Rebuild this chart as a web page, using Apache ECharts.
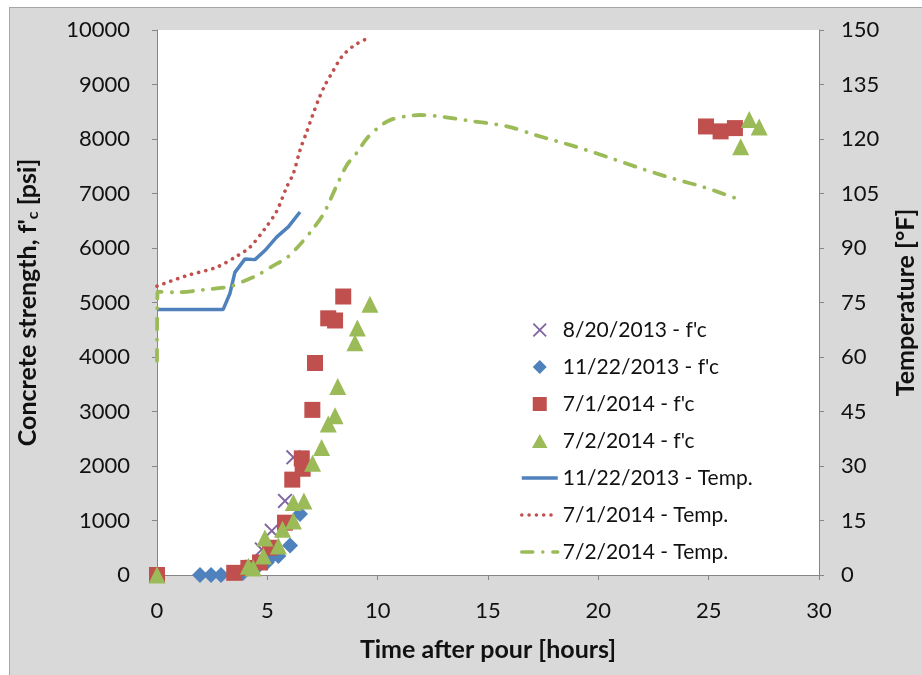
<!DOCTYPE html>
<html>
<head>
<meta charset="utf-8">
<script src="https://cdn.jsdelivr.net/npm/echarts@6/dist/echarts.min.js"></script>
<style>
html,body{margin:0;padding:0;background:#ffffff;}
#chart{position:absolute;left:9px;top:7px;width:913px;height:668px;border-left:1px solid #a6a6a6;border-top:1px solid #a6a6a6;}
</style>
</head>
<body>
<div id="chart"></div>
<script>
// ---- data ----
var xTicks = [0, 5, 10, 15, 20, 25, 30];
var strengthTicks = [0, 1000, 2000, 3000, 4000, 5000, 6000, 7000, 8000, 9000, 10000];
var tempTicks = [0, 15, 30, 45, 60, 75, 90, 105, 120, 135, 150];

var fc_20130820 = [[3.6,30],[4.3,150],[4.75,470],[5.2,810],[5.8,1360],[6.18,2160]];
var fc_20131122 = [[1.95,0],[2.45,0],[2.9,0],[3.9,40],[4.5,130],[4.97,230],[5.15,320],[5.5,350],[6.03,540],[6.48,1120]];
var fc_20140701 = [[0,0],[3.5,40],[4.14,130],[4.67,230],[5.12,500],[5.8,960],[6.13,1750],[6.6,1950],[6.56,2140],[7.04,3030],[7.16,3890],[7.76,4710],[8.07,4670],[8.44,5110],[24.88,8230],[25.54,8140],[26.19,8200]];
var fc_20140702 = [[0,0],[4.14,160],[4.36,130],[4.82,350],[4.89,680],[5.5,530],[5.69,840],[6.18,990],[6.18,1330],[6.66,1360],[7.05,2050],[7.46,2340],[7.76,2770],[8.07,2920],[8.19,3460],[8.97,4260],[9.08,4530],[9.65,4970],[26.45,7860],[26.84,8360],[27.29,8220]];

var temp_20131122 = [[0,73.1],[3.0,73.1],[3.3,77.4],[3.53,83.3],[3.99,87.0],[4.44,86.8],[4.89,89.3],[5.42,93.0],[5.95,95.8],[6.48,99.9]];
var temp_20140701 = [[0,79.5],[1.35,82.4],[2.7,84.7],[3.68,88],[4.21,90.2],[4.89,95.3],[5.42,100.1],[5.88,106.8],[6.18,110.5],[6.48,116.9],[6.78,121.9],[7.08,127.0],[7.31,130.7],[7.61,134.8],[7.96,138.5],[8.37,142.6],[8.9,145.6],[9.5,147.6]];
var temp_20140702 = [[0,59],[0.03,78],[0.89,77.8],[2.1,78.5],[3.31,79.4],[3.91,80.8],[4.52,82.4],[5.2,84.9],[5.88,87.3],[6.4,90.4],[7.01,94.8],[7.54,99.3],[7.84,103.1],[8.22,108.2],[8.6,112.8],[9.08,116.4],[9.5,120.1],[10.1,123.5],[10.56,125.2],[11.31,126.3],[11.92,126.6],[12.67,126.3],[14.18,125.0],[15.85,123.5],[17.2,121.0],[18.86,118.1],[20.38,115.1],[21.88,112.0],[23.39,109.1],[24.75,106.8],[26.27,103.6]];

var seriesNames = ["8/20/2013 - f'c", "11/22/2013 - f'c", "7/1/2014 - f'c", "7/2/2014 - f'c", "11/22/2013 - Temp.", "7/1/2014 - Temp.", "7/2/2014 - Temp."];

// ---- chart ----
var FONT = 'Lato';
var TXT = '#111111';
var AX = '#868686';
var CLEAR = 'rgba(0,0,0,0)';
var xShape = 'path://M0,0.9L0.9,0L5,4.1L9.1,0L10,0.9L5.9,5L10,9.1L9.1,10L5,5.9L0.9,10L0,9.1L4.1,5Z';
var sqShape = 'path://M0,0L10,0L10,10L0,10Z';
var diShape = 'path://M5,0L10,5L5,10L0,5Z';
var trShape = 'path://M5,0L10,9L0,9Z';
function plain(v) { return String(v); }

var chart = echarts.init(document.getElementById('chart'));
chart.setOption({
  backgroundColor: '#d9d9d9',
  animation: false,
  grid: {left: 147, top: 22, right: 104, bottom: 101, show: true, backgroundColor: '#ffffff', borderWidth: 0,
    containLabel: false, outerBoundsMode: 'none'},
  legend: {
    orient: 'vertical', left: 505, top: 304,
    itemWidth: 36, itemHeight: 14, itemGap: 11, symbolKeepAspect: true,
    lineStyle: {width: 3.5},
    textStyle: {fontFamily: FONT, fontSize: 21, color: TXT, lineHeight: 26},
    data: [
      {name: seriesNames[0], icon: xShape},
      {name: seriesNames[1], icon: diShape},
      {name: seriesNames[2], icon: sqShape},
      {name: seriesNames[3], icon: trShape},
      {name: seriesNames[4]},
      {name: seriesNames[5]},
      {name: seriesNames[6]}
    ]
  },
  xAxis: {
    type: 'value', min: xTicks[0], max: xTicks[xTicks.length-1], interval: 5,
    name: 'Time after pour [hours]', nameLocation: 'middle', nameGap: 62,
    nameTextStyle: {fontFamily: FONT, fontSize: 25, fontWeight: 'bold', color: TXT},
    axisLine: {show: true, onZero: false, lineStyle: {color: AX, width: 1}},
    axisTick: {show: true, length: 5, lineStyle: {color: AX}},
    axisLabel: {fontFamily: FONT, fontSize: 22, color: TXT, margin: 25, formatter: plain},
    splitLine: {show: false}
  },
  yAxis: [{
    type: 'value', min: strengthTicks[0], max: strengthTicks[strengthTicks.length-1], interval: 1000,
    name: "Concrete strength, f'{sub|c} [psi]", nameLocation: 'middle', nameGap: 116, nameRotate: 90,
    nameTextStyle: {fontFamily: FONT, fontSize: 25, fontWeight: 'bold', color: TXT,
      rich: {sub: {fontFamily: FONT, fontSize: 16, fontWeight: 'bold', color: TXT, padding: [11, 0, 0, 0]}}},
    axisLine: {show: true, lineStyle: {color: AX, width: 1}},
    axisTick: {show: true, length: 5, lineStyle: {color: AX}},
    axisLabel: {fontFamily: FONT, fontSize: 22, color: TXT, margin: 27, formatter: plain},
    splitLine: {show: false}
  }, {
    type: 'value', position: 'right', min: tempTicks[0], max: tempTicks[tempTicks.length-1], interval: 15,
    name: 'Temperature [°F]', nameLocation: 'middle', nameGap: 74, nameRotate: 90,
    nameTextStyle: {fontFamily: FONT, fontSize: 25, fontWeight: 'bold', color: TXT},
    axisLine: {show: true, lineStyle: {color: AX, width: 1}},
    axisTick: {show: true, length: 5, lineStyle: {color: AX}},
    axisLabel: {fontFamily: FONT, fontSize: 22, color: TXT, margin: 22, formatter: plain},
    splitLine: {show: false}
  }],
  series: [
    {name: seriesNames[4], type: 'line', yAxisIndex: 1, data: temp_20131122, showSymbol: false, symbol: 'none', z: 1,
      lineStyle: {color: '#4f81bd', width: 3.5}, itemStyle: {color: CLEAR, borderWidth: 0}},
    {name: seriesNames[5], type: 'line', yAxisIndex: 1, data: temp_20140701, showSymbol: false, symbol: 'none', smooth: 0.3, z: 1,
      lineStyle: {color: '#c0504d', width: 3.6, type: [0.1, 7.2], cap: 'round'}, itemStyle: {color: CLEAR, borderWidth: 0}},
    {name: seriesNames[6], type: 'line', yAxisIndex: 1, data: temp_20140702, showSymbol: false, symbol: 'none', smooth: 0.3, z: 1,
      lineStyle: {color: '#9bbb59', width: 3.8, type: [11, 10, 0.1, 10], cap: 'round'}, itemStyle: {color: CLEAR, borderWidth: 0}},
    {name: seriesNames[0], type: 'scatter', yAxisIndex: 0, data: fc_20130820, symbol: xShape, symbolSize: 15, z: 3,
      itemStyle: {color: '#8064a2', opacity: 1}},
    {name: seriesNames[1], type: 'scatter', yAxisIndex: 0, data: fc_20131122, symbol: diShape, symbolSize: 16, z: 4,
      itemStyle: {color: '#4f81bd', opacity: 1}},
    {name: seriesNames[2], type: 'scatter', yAxisIndex: 0, data: fc_20140701, symbol: sqShape, symbolSize: 16, z: 5,
      itemStyle: {color: '#c0504d', opacity: 1}},
    {name: seriesNames[3], type: 'scatter', yAxisIndex: 0, data: fc_20140702, symbol: trShape, symbolSize: 17, z: 6,
      itemStyle: {color: '#9bbb59', opacity: 1}}
  ]
});
</script>
</body>
</html>
